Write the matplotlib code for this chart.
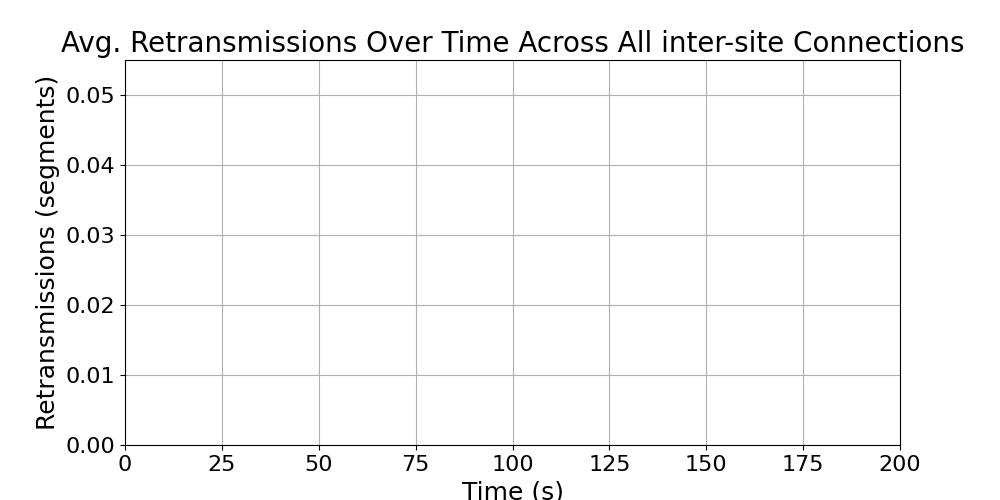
import matplotlib
matplotlib.use("Agg")
import matplotlib.pyplot as plt

# no retransmission samples were recorded for the inter-site connections
times = []
retransmissions = []

fig, ax = plt.subplots(figsize=(10, 5), dpi=100)
ax.plot(times, retransmissions)

ax.set_xlim(0, 200)
ax.set_ylim(0, 0.055)
ax.set_title("Avg. Retransmissions Over Time Across All inter-site Connections", fontsize=20)
ax.set_xlabel("Time (s)", fontsize=18)
ax.set_ylabel("Retransmissions (segments)", fontsize=18)
ax.tick_params(labelsize=16)
ax.grid(True)

plt.savefig("out.png")
